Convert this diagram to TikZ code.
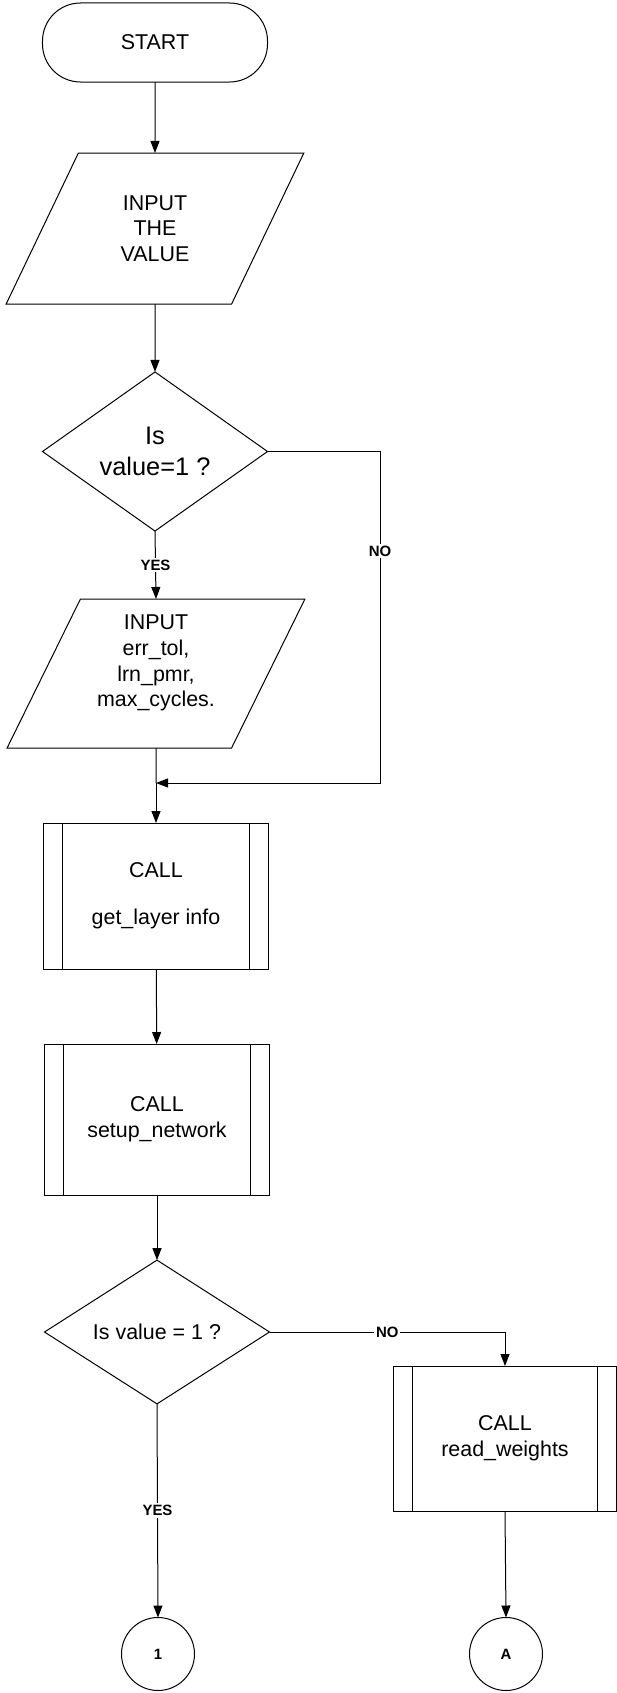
\documentclass[tikz,border=0pt]{standalone}
\usepackage{fontspec}
\setmainfont{Liberation Sans}
\usetikzlibrary{arrows.meta, shapes.geometric, positioning}
\tikzset{
  >={Triangle[length=12bp,width=9bp]},
  % forme base del diagramma
  base/.style={draw, line width=1bp, align=center, inner sep=0pt, outer sep=0pt,
    font=\fontsize{21.5}{25.8}\selectfont},
  terminal/.style={base, rectangle, rounded corners=38bp, minimum width=225bp, minimum height=79bp},
  io/.style={base, trapezium, trapezium left angle=64, trapezium right angle=116,
    trapezium stretches=true, minimum width=298bp, minimum height=151bp},
  decision/.style={base, diamond, minimum width=225bp, minimum height=149bp},
  subproc/.style={base, rectangle, minimum width=224bp, minimum height=146bp,
    path picture={
      \draw[line width=1bp] ([xshift=19bp]path picture bounding box.north west) -- ([xshift=19bp]path picture bounding box.south west)
        ([xshift=-19bp]path picture bounding box.north east) -- ([xshift=-19bp]path picture bounding box.south east);}},
  connector/.style={base, circle, minimum size=73bp, font=\fontsize{15}{18}\selectfont\bfseries},
  % etichette e frecce
  tag/.style={fill=white, inner sep=2bp, font=\fontsize{15}{18}\selectfont\bfseries},
  flow/.style={->, line width=1bp},
  line/.style={line width=1bp}
}
\begin{document}
\begin{tikzpicture}[x=1bp, y=1bp]
  \useasboundingbox (0,0) rectangle (617,-1693);
  \node[terminal] (start) at (155,-42.5) {START};
  \node[io] (in1) at (155,-228.5) {INPUT\\THE\\VALUE};
  \node[decision, font=\fontsize{25.5}{30.6}\selectfont] (dec1) at (155,-451.5) {Is\\value=1 ?};
  \node[io, minimum height=149bp] (in2) at (156,-673.5) {INPUT\\err\_tol,\\lrn\_pmr,\\max\_cycles.\\[-8bp] \strut};
  \coordinate (merge) at (156,-783);
  \coordinate (no1) at (380,-783);
  \node[subproc] (call1) at (156,-896) {CALL\\[21bp]get\_layer info};
  \node[subproc, minimum height=151bp] (call2) at (157,-1119.5) {CALL\\setup\_network};
  \node[decision, minimum height=128bp] (dec2) at (157,-1332) {Is value = 1 ?};
  \node[subproc, minimum width=223bp, minimum height=145bp] (call3) at (505,-1438.5) {CALL\\read\_weights};
  \node[connector] (one) at (158,-1654) {1};
  \node[connector] (conA) at (506,-1654) {A};

  \draw[flow] (start) -- (in1);
  \draw[flow] (in1) -- (dec1);
  \draw[flow] (dec1.south) -- node[tag]{YES} (in2.north);
  \draw[flow] (dec1.east) -| node[tag, pos=0.65]{NO} (no1) -- (merge);
  \draw[line] (in2.south) -- (merge);
  \draw[flow] (merge) -- (call1.north);
  \draw[flow] (call1) -- (call2);
  \draw[flow] (call2) -- (dec2);
  \draw[flow] (dec2.east) -| node[tag, pos=0.25]{NO} (call3.north);
  \draw[flow] (dec2.south) -- node[tag]{YES} (one.north);
  \draw[flow] (call3.south) -- (conA.north);
\end{tikzpicture}
\end{document}
